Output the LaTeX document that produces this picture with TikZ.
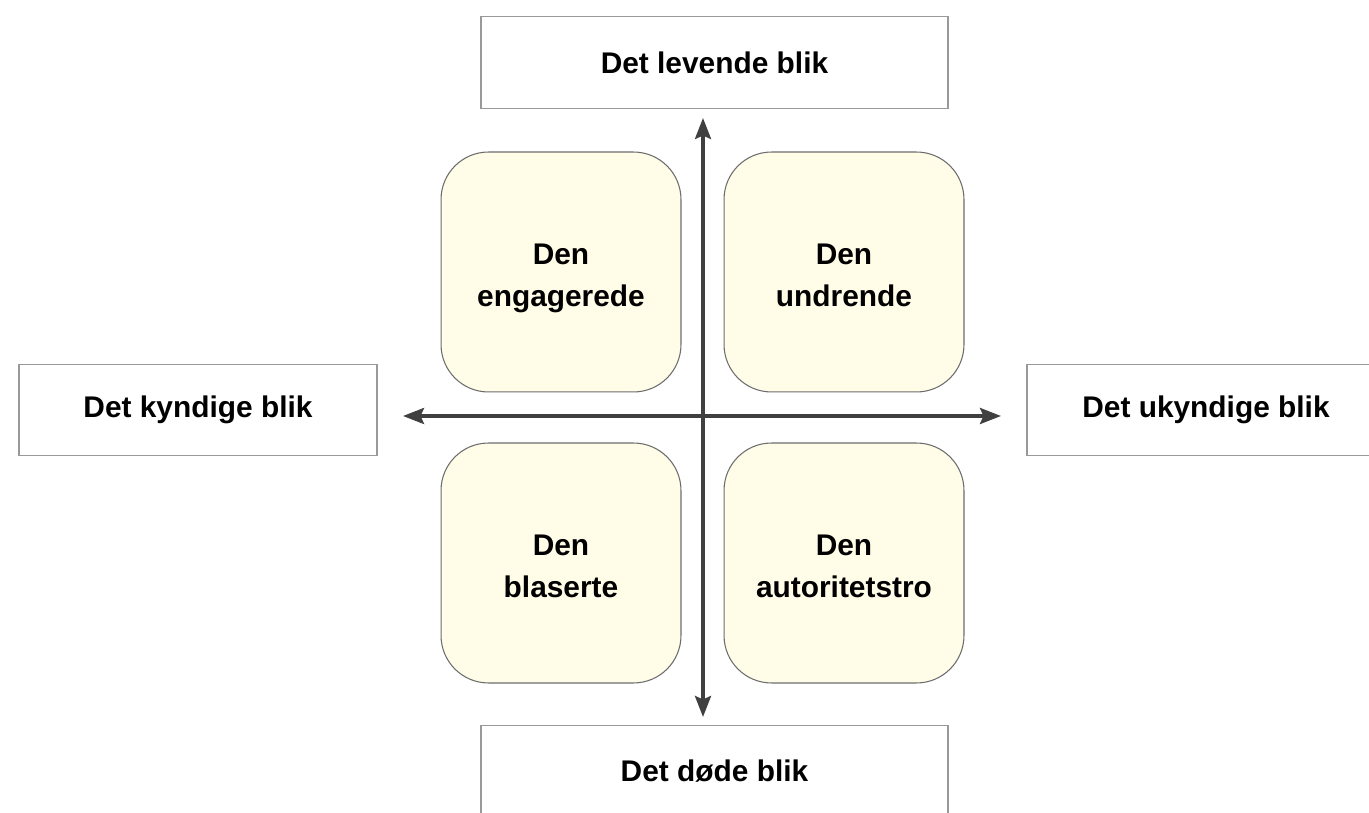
\documentclass[tikz,border=0pt]{standalone}
\usepackage{fontspec}
\setmainfont{Liberation Sans}
\usetikzlibrary{arrows.meta}

\definecolor{quadfill}{RGB}{255,252,232}
\definecolor{axisgray}{RGB}{64,64,64}

\begin{document}
\begin{tikzpicture}[
    x=0.02cm, y=-0.02cm,
    every node/.style={font=\fontsize{17}{24}\selectfont\bfseries, align=center},
    pole/.style={draw=gray!80, line width=0.7pt, fill=white, minimum height=1.83cm},
    wide pole/.style={pole, minimum width=9.34cm},
    side pole/.style={pole, minimum width=7.16cm},
    quadrant/.style={draw=gray!85!black, line width=0.6pt, fill=quadfill, rounded corners=0.95cm,
      minimum width=4.8cm, minimum height=4.8cm, text height=1.5cm, text depth=0.1cm},
    axis/.style={{Stealth[length=0.42cm,width=0.32cm,inset=0.07cm]}-{Stealth[length=0.42cm,width=0.32cm,inset=0.07cm]},
      line width=2pt, draw=axisgray}
  ]
    \useasboundingbox (0,0) rectangle (1369,813);
    \clip (0,0) rectangle (1369,813);

    % Four poles, the right and bottom ones run past the page edge.
    \node[wide pole] (levende) at (714.5,62.5) {Det levende blik};
    \node[wide pole] (doede) at (714.5,771) {Det døde blik};
    \node[side pole] (kyndige) at (198,410) {Det kyndige blik};
    \node[side pole] (ukyndige) at (1206,410) {Det ukyndige blik};

    % Quadrants
    \node[quadrant] (engagerede) at (561,272) {Den\\engagerede};
    \node[quadrant] (undrende) at (844,272) {Den\\undrende};
    \node[quadrant] (blaserte) at (561,563) {Den\\blaserte};
    \node[quadrant] (autoritetstro) at (844,563) {Den\\autoritetstro};

    % Axes
    \coordinate (vtop) at (703,118);
    \coordinate (vbottom) at (703,717);
    \coordinate (hleft) at (403,416);
    \coordinate (hright) at (1001,416);
    \draw[axis] (vbottom) -- (vtop);
    \draw[axis] (hleft) -- (hright);
\end{tikzpicture}
\end{document}
